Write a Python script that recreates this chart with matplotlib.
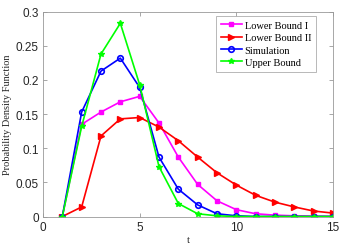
import matplotlib
matplotlib.use("Agg")
import matplotlib.pyplot as plt
from matplotlib.ticker import FormatStrFormatter

t = list(range(1, 16))
lower1 = [0, 0.135, 0.153, 0.168, 0.176, 0.137, 0.087, 0.047, 0.023, 0.010, 0.004, 0.002, 0.001, 0.0005, 0.0002]
lower2 = [0, 0.014, 0.118, 0.143, 0.145, 0.131, 0.111, 0.087, 0.064, 0.046, 0.031, 0.021, 0.014, 0.008, 0.005]
sim = [0, 0.153, 0.213, 0.232, 0.189, 0.087, 0.040, 0.017, 0.004, 0.001, 0, 0, 0, 0, 0]
upper = [0, 0.132, 0.238, 0.283, 0.193, 0.073, 0.019, 0.004, 0.001, 0, 0, 0, 0, 0, 0]

serif = "Liberation Serif"
plt.rcParams["font.family"] = "Liberation Sans"

fig = plt.figure(figsize=(3.5, 2.51), dpi=100)
ax = fig.add_axes([43 / 350, 1 - 217.5 / 251, 290 / 350, 204.8 / 251])

ax.plot(t, lower1, color=(1, 0, 1), marker="s", ms=3, lw=1.2, label="Lower Bound I")
ax.plot(t, lower2, color=(1, 0, 0), marker=">", ms=4, lw=1.2, label="Lower Bound II")
ax.plot(t, sim, color=(0, 0, 1), marker="o", ms=4, mfc="none", mew=1.2, lw=1.2, label="Simulation")
ax.plot(t, upper, color=(0, 1, 0), marker="*", ms=4, lw=1.2, label="Upper Bound")

ax.set_xlim(0, 15)
ax.set_ylim(0, 0.3)
ax.set_xticks([0, 5, 10, 15])
ax.set_yticks([0, 0.05, 0.1, 0.15, 0.2, 0.25, 0.3])
ax.yaxis.set_major_formatter(FormatStrFormatter("%g"))
ax.tick_params(direction="in", length=3, width=0.6, top=True, right=True,
               labelsize=8.5, colors="#999999", labelcolor="#262626", pad=3)
for s in ax.spines.values():
    s.set_color("#999999")
    s.set_linewidth(0.6)

ax.set_xlabel("t", fontfamily=serif, fontsize=8, color="#262626", labelpad=2)
ax.set_ylabel("Probability Density Function", fontfamily=serif, fontsize=7.5, color="#262626")
ax.yaxis.set_label_coords(-31 / 290, 0.5)

leg = ax.legend(loc="upper right", bbox_to_anchor=(0.941, 0.98), prop={"family": serif, "size": 7.5},
                fancybox=False, edgecolor="#999999", handlelength=2.0, handletextpad=0.3,
                borderpad=0.45, labelspacing=0.3, borderaxespad=0)
leg.get_frame().set_linewidth(0.6)

fig.savefig("out.png", dpi=100)
